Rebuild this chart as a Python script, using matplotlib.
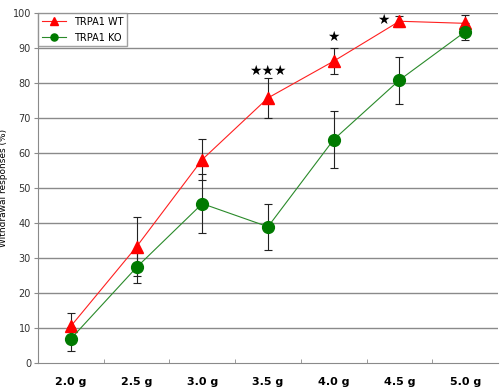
"""Withdrawal responses vs von Frey force, TRPA1 WT vs KO."""

import matplotlib
matplotlib.use("Agg")
import matplotlib.pyplot as plt
from matplotlib.ticker import FixedLocator

forces = ["2.0 g", "2.5 g", "3.0 g", "3.5 g", "4.0 g", "4.5 g", "5.0 g"]

wt_mean = [10.5, 33.2, 58.1, 75.7, 86.2, 97.6, 97.0]
wt_err = [3.8, 8.5, 5.9, 5.6, 3.8, 1.6, 2.3]

ko_mean = [6.9, 27.3, 45.5, 38.9, 63.8, 80.8, 94.6]
ko_err = [3.4, 4.5, 8.4, 6.6, 8.2, 6.7, 2.4]

# significance stars: (category index, y value, text)
stars_pos = [3, 4, 5]
stars_y = [83.5, 93.0, 98.0]
stars_txt = ["★★★", "★", "★"]

fig = plt.figure(figsize=(5.0, 3.89), dpi=100)
ax = fig.add_axes([0.076, 0.067, 0.92, 0.9])

x = list(range(len(forces)))

ax.set_ylim(0, 100)
ax.set_xlim(-0.5, len(forces) - 0.5)
ax.set_yticks(range(0, 101, 10))
for yv in range(10, 101, 10):
    ax.axhline(yv, color="#8a8a8a", lw=1.0, zorder=0)

ax.errorbar(x, wt_mean, yerr=wt_err, fmt="none", ecolor="#222222",
            elinewidth=0.8, capsize=3, capthick=0.8, zorder=2)
ax.errorbar(x, ko_mean, yerr=ko_err, fmt="none", ecolor="#222222",
            elinewidth=0.8, capsize=3, capthick=0.8, zorder=2)

ax.plot(x, wt_mean, color="#ff2020", lw=0.8, marker="^", ms=8.5,
        mfc="#ff0000", mec="#ff0000", zorder=3, label="TRPA1 WT")
ax.plot(x, ko_mean, color="#2a8a2a", lw=0.8, marker="o", ms=8.5,
        mfc="#007a00", mec="#007a00", zorder=3, label="TRPA1 KO")

offsets = [0.0, 0.0, -0.25]
for i, yv, t, dx in zip(stars_pos, stars_y, stars_txt, offsets):
    ax.text(i + dx, yv, t, ha="center", va="center", fontsize=10,
            family=["DejaVu Sans"], color="black")

for s in ["top", "right"]:
    ax.spines[s].set_visible(False)
ax.spines["left"].set_color("#8a8a8a")
ax.spines["bottom"].set_color("#8a8a8a")

ax.tick_params(axis="y", labelsize=7, colors="#333333", length=3,
               color="#8a8a8a", pad=2)
ax.set_xticks(x)
ax.set_xticklabels(forces, fontsize=8, fontweight="bold")
ax.tick_params(axis="x", length=0, pad=10)
ax.xaxis.set_minor_locator(FixedLocator([i + 0.5 for i in range(len(forces) - 1)]))
ax.tick_params(axis="x", which="minor", length=3, color="#8a8a8a", direction="in")

ax.set_ylabel("Withdrawal responses (%)", fontsize=6.5)
ax.yaxis.set_label_coords(-0.066, 0.5)

leg = ax.legend(loc="upper left", fontsize=7, frameon=True, fancybox=False,
                borderaxespad=0.0, handlelength=2.5, markerscale=0.6,
                borderpad=0.4, labelspacing=0.6)
leg.get_frame().set_edgecolor("#8a8a8a")
leg.get_frame().set_linewidth(1.0)

fig.savefig("out.png", dpi=100)
